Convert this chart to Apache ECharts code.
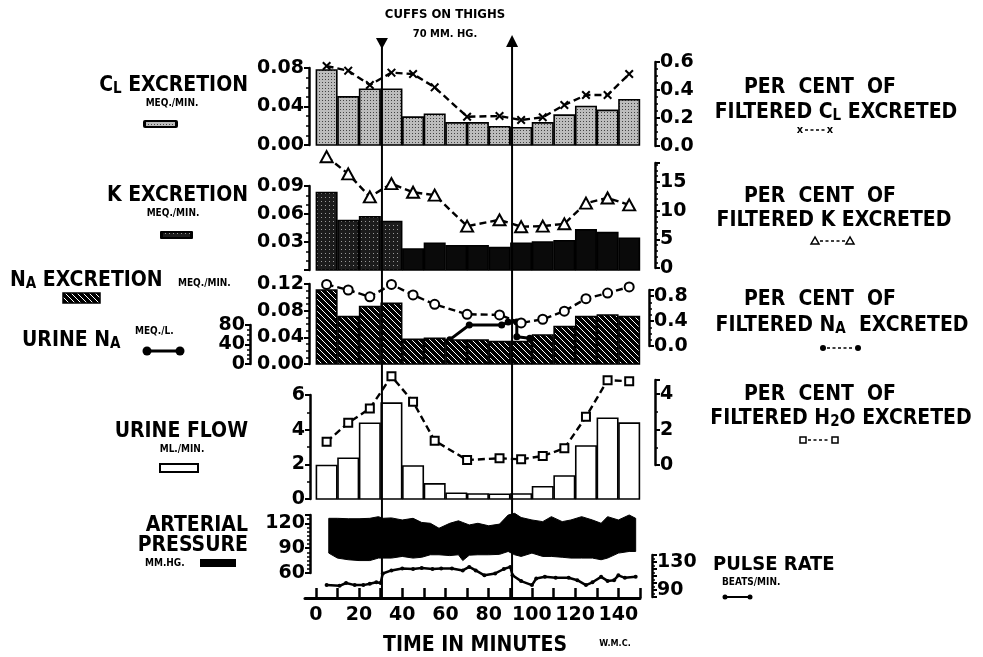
<!DOCTYPE html>
<html><head><meta charset="utf-8">
<script src="https://cdn.jsdelivr.net/npm/echarts@6/dist/echarts.min.js"></script>
<style>html,body{margin:0;padding:0;background:#fff}#c{width:983px;height:657px}</style>
</head><body><div id="c"></div>
<script>
// ---------------- DATA ----------------
const periodStarts = [0,10,20,30,40,50,60,70,80,90,100,110,120,130,140];
const periodLength = 10;
const clExcretion = [0.078,0.050,0.058,0.058,0.029,0.032,0.023,0.023,0.019,0.018,0.023,0.031,0.040,0.036,0.047];
const kExcretion  = [0.083,0.053,0.057,0.052,0.0225,0.0286,0.026,0.026,0.024,0.0286,0.030,0.0314,0.043,0.040,0.034];
const naExcretion = [0.111,0.071,0.086,0.091,0.037,0.0385,0.036,0.036,0.0335,0.0335,0.0435,0.056,0.071,0.0735,0.071];
const urineFlow   = [1.93,2.35,4.37,5.53,1.9,0.87,0.33,0.29,0.27,0.29,0.71,1.33,3.06,4.66,4.38];

const pctTimes = [5,15,25,35,45,55,70,85,95,105,115,125,135,145];
const pctCl  = [0.571,0.538,0.436,0.524,0.514,0.419,0.209,0.214,0.186,0.205,0.293,0.364,0.364,0.514];
const pctK   = [19.4,16.4,12.4,14.7,13.2,12.7,7.3,8.4,7.2,7.3,7.7,11.3,12.2,11.0];
const pctNa  = [0.99,0.90,0.79,0.99,0.82,0.67,0.51,0.50,0.37,0.43,0.56,0.76,0.85,0.95];
const pctH2O = [1.31,2.38,3.19,5.01,3.57,1.37,0.28,0.38,0.32,0.51,0.94,2.72,4.79,4.73];

const urineNaTimes = [5,15,25,35,45,55,62,71,86,89,93,93,99,105,115,125,135,145];
const urineNa      = [55,45,50,50,40,40,50,80,80,86,86,56,53,50,45,55,60,60];

const bpTimes   = [6,10,15,20,25,29,31,35,40,45,49,53,57,62,66,68,71,75,80,85,89,92,95,100,105,109,114,118,123,128,132,135,140,145,148];
const systolic  = [126,126,125.5,125.5,126,128,126,126.5,124,126,121,120,114,120,123,121,118,120,117,119,130,132,127,124,122,128,122,124,128,124,120,128,124,130,126];
const diastolic = [84,78,76,75,75,78,78,78,80,78,79,82,82,81,82,75,81.5,82,82,82.5,86,82,80,84,80,80,79,78,78,78,76,78,84,86,86];

const pulseTimes = [5,11,14,18,22,25,28,30,31,35,40,45,49,54,58,63,68,71,74,78,83,87,90,91,95,100,102,106,111,117,121,125,128,132,135,138,140,143,148];
const pulseRate  = [97,96,100,97,97,99,101,100,113.6,118,120.6,120,121.5,120,120.6,120.6,118,123,118,111,113.6,120,123,111,102.7,97,106.5,108.8,107.4,107.4,104,97,101,108.8,103,104,111,107.4,108.8];

const cuffTimes = [30.6, 90.8];   // cuffs on, cuffs off

const xTicks  = [0,10,20,30,40,50,60,70,80,90,100,110,120,130,140,150];
const xLabels = [0,20,40,60,80,100,120,140];
const clLeftLabels  = [0,0.04,0.08];
const clRightLabels = [0,0.2,0.4,0.6];
const kLeftLabels   = [0.03,0.06,0.09];
const kRightLabels  = [0,5,10,15];
const naLeftLabels  = [0,0.04,0.08,0.12];
const urineNaLabels = [0,40,80];
const naRightLabels = [0,0.4,0.8];
const ufLeftLabels  = [0,2,4,6];
const ufRightLabels = [0,2,4];
const bpLabels      = [60,90,120];
const pulseLabels   = [90,130];

// ---------------- STYLE HELPERS ----------------
const F = "'Liberation Sans Narrow','DejaVu Sans Condensed','Liberation Sans',sans-serif";
const AXF = "'DejaVu Sans',sans-serif";
function makePattern(w,h,draw){const c=document.createElement('canvas');c.width=w;c.height=h;const g=c.getContext('2d');draw(g);return {image:c,repeat:'repeat'};}
const clFill = makePattern(3,3,g=>{g.fillStyle='#bcbcbc';g.fillRect(0,0,3,3);g.fillStyle='#444';g.fillRect(1,1,1,1);});
const kFillLight = makePattern(4,4,g=>{g.fillStyle='#1c1c1c';g.fillRect(0,0,4,4);g.fillStyle='#9a9a9a';g.fillRect(1,1,1,1);});
const naHatch = makePattern(6,6,g=>{g.fillStyle='#000';g.fillRect(0,0,6,6);g.strokeStyle='#fff';g.lineWidth=1;
  g.beginPath();g.moveTo(0,0);g.lineTo(6,6);g.moveTo(-3,3);g.lineTo(3,9);g.moveTo(3,-3);g.lineTo(9,3);g.stroke();});

const X0 = 305, X1 = 640, W = 983;
const gridSpans = [
  [68,145],   // 0 Cl left
  [62,146],   // 1 Cl right
  [186,270],  // 2 K left
  [163,268],  // 3 K right
  [284,364],  // 4 Na left
  [325,364],  // 5 urine Na
  [290,346],  // 6 Na right
  [395,499],  // 7 urine flow left
  [380,465],  // 8 urine flow right
  [515,573],  // 9 BP
  [555,597],  // 10 pulse
  [36,598]    // 11 overlay (time axis, cuff lines)
];
const grids = gridSpans.map(s=>({left:X0,right:W-X1,top:s[0],height:s[1]-s[0]}));
const xAxes = gridSpans.map((s,i)=>({type:'value',gridIndex:i,min:-5,max:150,show:false}));
xAxes[11] = {type:'value',gridIndex:11,min:-5,max:150,position:'bottom',show:true,
  axisLine:{show:true,onZero:false,lineStyle:{color:'#000',width:3}},
  axisTick:{show:true,inside:true,length:10,customValues:xTicks,lineStyle:{color:'#000',width:2.5}},
  axisLabel:{customValues:xLabels,color:'#000',fontFamily:AXF,fontWeight:'bold',fontSize:19,margin:8},
  splitLine:{show:false}};

function yAx(i,min,max,interval,minorSplit,labels,dec,pos,offset){
  return {type:'value',gridIndex:i,min,max,interval,position:pos,offset,
    splitLine:{show:false},
    axisLine:{show:true,onZero:false,lineStyle:{color:'#000',width:2.5}},
    axisTick:{show:true,length:5,lineStyle:{color:'#000',width:2}},
    minorTick:{show:true,splitNumber:minorSplit,length:3,lineStyle:{color:'#000',width:1.5}},
    axisLabel:{customValues:labels,formatter:v=>Number(v).toFixed(dec),color:'#000',fontFamily:AXF,fontWeight:'bold',fontSize:19,margin:5}};
}
const yAxes = [
  yAx(0,0,0.08,0.04,4,clLeftLabels,2,'left',-4),
  yAx(1,0,0.6,0.2,4,clRightLabels,1,'right',15),
  yAx(2,0,0.09,0.03,3,kLeftLabels,2,'left',-4),
  yAx(3,0,18.3,5,5,kRightLabels,0,'right',15),
  yAx(4,0,0.12,0.04,4,naLeftLabels,2,'left',-4),
  yAx(5,0,80,40,4,urineNaLabels,0,'left',55),
  yAx(6,0,0.9,0.4,4,naRightLabels,1,'right',9),
  yAx(7,0,6,2,2,ufLeftLabels,0,'left',-5),
  yAx(8,0,4.8,2,2,ufRightLabels,0,'right',15),
  yAx(9,60,130,30,6,bpLabels,0,'left',-5),
  yAx(10,80,140,10,2,pulseLabels,0,'right',12),
  {type:'value',gridIndex:11,min:0,max:1,show:false}
];

function barSeries(idx, values, fillFn){
  return {type:'custom',xAxisIndex:idx,yAxisIndex:idx,z:3,clip:false,
    encode:{x:[0,1],y:2},
    data:periodStarts.map((s,i)=>[s,s+periodLength,values[i]]),
    renderItem:(params,api)=>{
      const p0=api.coord([api.value(0),api.value(2)]), p1=api.coord([api.value(1),0]);
      return {type:'rect',shape:{x:p0[0]+0.6,y:p0[1],width:p1[0]-p0[0]-1.2,height:p1[1]-p0[1]},
        style:{fill:fillFn(params.dataIndex),stroke:'#000',lineWidth:1.6}};
    }};
}
function pctSeries(idx, values, symbol, size, filled){
  return {type:'line',xAxisIndex:idx,yAxisIndex:idx,z:6,clip:false,
    data:pctTimes.map((t,i)=>[t,values[i]]),
    symbol,symbolSize:size,showSymbol:true,
    lineStyle:{color:'#000',width:2.4,type:[7,4]},
    itemStyle:{color:filled?'#000':'#fff',borderColor:'#000',borderWidth:filled?0:2}};
}
const xSym = 'path://M0,1.6L1.6,0L5,3.4L8.4,0L10,1.6L6.6,5L10,8.4L8.4,10L5,6.6L1.6,10L0,8.4L3.4,5Z';

const series = [
  barSeries(0, clExcretion, ()=>clFill),
  pctSeries(1, pctCl, xSym, 9, true),
  barSeries(2, kExcretion, i=> i<4 ? kFillLight : '#0a0a0a'),
  pctSeries(3, pctK, 'triangle', [12,11], false),
  {type:'line',xAxisIndex:5,yAxisIndex:5,z:1,clip:false,
    data:urineNaTimes.map((t,i)=>[t,urineNa[i]]),symbol:'circle',symbolSize:7,showSymbol:true,
    lineStyle:{color:'#000',width:3},itemStyle:{color:'#000'}},
  barSeries(4, naExcretion, ()=>naHatch),
  pctSeries(6, pctNa, 'circle', 9, false),
  barSeries(7, urineFlow, ()=>'#fff'),
  pctSeries(8, pctH2O, 'rect', 8, false),
  {type:'custom',xAxisIndex:9,yAxisIndex:9,z:3,clip:false,
    data:bpTimes.map((t,i)=>[t,systolic[i],diastolic[i]]),
    renderItem:(params,api)=>{
      if(params.dataIndex!==0) return;
      const pts=[];
      bpTimes.forEach((t,i)=>pts.push(api.coord([t,systolic[i]])));
      for(let i=bpTimes.length-1;i>=0;i--) pts.push(api.coord([bpTimes[i],diastolic[i]]));
      return {type:'polygon',shape:{points:pts},style:{fill:'#000',stroke:'#000',lineWidth:1,lineJoin:'round'}};
    }},
  {type:'line',xAxisIndex:10,yAxisIndex:10,z:4,clip:false,
    data:pulseTimes.map((t,i)=>[t,pulseRate[i]]),symbol:'circle',symbolSize:4,showSymbol:true,
    lineStyle:{color:'#000',width:2.5},itemStyle:{color:'#000'}},
  {type:'custom',xAxisIndex:11,yAxisIndex:11,z:10,clip:false,
    data:cuffTimes.map((t,i)=>[t,i]),
    renderItem:(params,api)=>{
      const top=api.coord([api.value(0),1]), bot=api.coord([api.value(0),0]);
      const x=top[0], y=top[1];
      const head = params.dataIndex===0
        ? [[x-6,y+2],[x+6,y+2],[x,y+13]]
        : [[x,y-1],[x-6,y+11],[x+6,y+11]];
      return {type:'group',children:[
        {type:'line',shape:{x1:x,y1:y+6,x2:x,y2:bot[1]},style:{stroke:'#000',lineWidth:2}},
        {type:'polygon',shape:{points:head},style:{fill:'#000'}}
      ]};
    }}
];

// ---------------- TEXT & LEGEND GRAPHICS ----------------
function T(x,y,text,size,align,rich){
  const st={text,font:`bold ${size}px ${F}`,fill:'#000',align:align||'left',verticalAlign:'middle'};
  if(rich) st.rich=rich;
  return {type:'text',x,y,z:100,style:st};
}
const BIG = 21;
const RB = {b:{fontSize:BIG,fontWeight:'bold',fontFamily:F,verticalAlign:'bottom'},s:{fontSize:15,fontWeight:'bold',fontFamily:F,verticalAlign:'bottom'}};
const dash = (x1,x2,y)=>({type:'line',z:100,shape:{x1,y1:y,x2,y2:y},style:{stroke:'#000',lineWidth:1.6,lineDash:[3,2.5]}});
const PCO = 'PER  CENT  OF';
const graphics = [
  T(445,15,'CUFFS ON THIGHS',13,'center'),
  T(445,34,'70 MM. HG.',11,'center'),
  // left labels
  T(248,86,'{b|C}{s|L}{b| EXCRETION}',BIG,'right',RB),
  T(172,103,'MEQ./MIN.',10,'center'),
  {type:'rect',z:100,shape:{x:143,y:120,width:35,height:8,r:2},style:{fill:'#000'}},
  {type:'rect',z:101,shape:{x:146,y:122,width:29,height:4},style:{fill:clFill}},
  T(248,196,'K EXCRETION',BIG,'right'),
  T(173,213,'MEQ./MIN.',10,'center'),
  {type:'rect',z:100,shape:{x:160,y:231,width:33,height:8,r:1},style:{fill:'#000'}},
  {type:'rect',z:101,shape:{x:163,y:233,width:27,height:4},style:{fill:kFillLight}},
  T(10,281,'{b|N}{s|A}{b| EXCRETION}',BIG,'left',RB),
  T(178,283,'MEQ./MIN.',10,'left'),
  {type:'rect',z:100,shape:{x:63,y:293,width:37,height:10},style:{fill:naHatch,stroke:'#000',lineWidth:1.5}},
  T(22,341,'{b|URINE N}{s|A}',BIG,'left',RB),
  T(135,331,'MEQ./L.',10,'left'),
  {type:'line',z:100,shape:{x1:147,y1:351,x2:180,y2:351},style:{stroke:'#000',lineWidth:3}},
  {type:'circle',z:100,shape:{cx:147,cy:351,r:4.5},style:{fill:'#000'}},
  {type:'circle',z:100,shape:{cx:180,cy:351,r:4.5},style:{fill:'#000'}},
  T(248,432,'URINE FLOW',BIG,'right'),
  T(182,449,'ML./MIN.',10,'center'),
  {type:'rect',z:100,shape:{x:160,y:464,width:38,height:8},style:{fill:'#fff',stroke:'#000',lineWidth:2}},
  T(248,526,'ARTERIAL',BIG,'right'),
  T(248,546,'PRESSURE',BIG,'right'),
  T(145,563,'MM.HG.',10,'left'),
  {type:'rect',z:100,shape:{x:200,y:559,width:36,height:8},style:{fill:'#000'}},
  // right labels
  T(820,88,PCO,BIG,'center'),
  T(836,113,'{b|FILTERED C}{s|L}{b| EXCRETED}',BIG,'center',RB),
  T(800,130,'x',11,'center'), dash(805,825,130), T(830,130,'x',11,'center'),
  T(820,197,PCO,BIG,'center'),
  T(834,221,'FILTERED K EXCRETED',BIG,'center'),
  {type:'polygon',z:100,shape:{points:[[815,237],[811,244],[819,244]]},style:{fill:'#fff',stroke:'#000',lineWidth:1.5}},
  dash(820,845,241),
  {type:'polygon',z:100,shape:{points:[[850,237],[846,244],[854,244]]},style:{fill:'#fff',stroke:'#000',lineWidth:1.5}},
  T(820,300,PCO,BIG,'center'),
  T(842,326,'{b|FILTERED N}{s|A}{b|  EXCRETED}',BIG,'center',RB),
  {type:'circle',z:100,shape:{cx:823,cy:348,r:3},style:{fill:'#000'}},
  dash(827,853,348),
  {type:'circle',z:100,shape:{cx:858,cy:348,r:3},style:{fill:'#000'}},
  T(820,395,PCO,BIG,'center'),
  T(841,419,'{b|FILTERED H}{s|2}{b|O EXCRETED}',BIG,'center',RB),
  {type:'rect',z:100,shape:{x:800,y:437,width:6,height:6},style:{fill:'#fff',stroke:'#000',lineWidth:1.5}},
  dash(808,830,440),
  {type:'rect',z:100,shape:{x:832,y:437,width:6,height:6},style:{fill:'#fff',stroke:'#000',lineWidth:1.5}},
  T(713,565,'PULSE RATE',20,'left'),
  T(722,582,'BEATS/MIN.',10,'left'),
  {type:'line',z:100,shape:{x1:725,y1:597,x2:750,y2:597},style:{stroke:'#000',lineWidth:2}},
  {type:'circle',z:100,shape:{cx:725,cy:597,r:2.5},style:{fill:'#000'}},
  {type:'circle',z:100,shape:{cx:750,cy:597,r:2.5},style:{fill:'#000'}},
  // bottom
  T(475,646,'TIME IN MINUTES',21,'center'),
  T(615,644,'W.M.C.',9,'center')
];

const chart = echarts.init(document.getElementById('c'), null, {renderer:'canvas'});
chart.setOption({
  animation:false,
  backgroundColor:'#fff',
  grid:grids, xAxis:xAxes, yAxis:yAxes, series, graphic:graphics
});
</script></body></html>
